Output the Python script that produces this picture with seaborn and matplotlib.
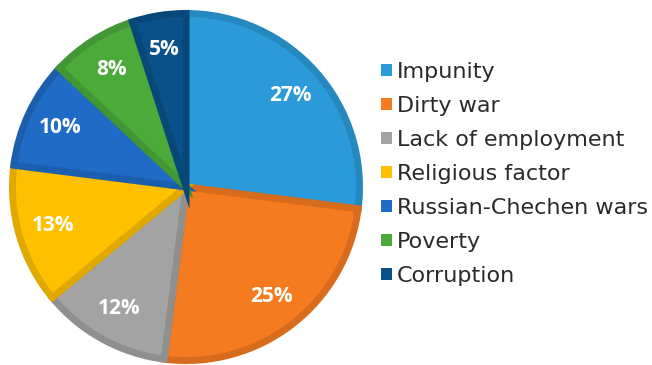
import matplotlib
matplotlib.use("Agg")
import matplotlib.pyplot as plt
import seaborn as sns
from matplotlib.patches import Patch
import matplotlib.colors as mcolors

categories = ["Impunity", "Dirty war", "Lack of employment", "Religious factor",
              "Russian-Chechen wars", "Poverty", "Corruption"]
values = [27, 25, 12, 13, 10, 8, 5]
colors = ["#2A9AD8", "#F47B20", "#A3A3A3", "#FFC000", "#1F6BC6", "#4BAA3A", "#0B5189"]

sns.set_theme(style="white")
plt.rcParams['font.family'] = ['Open Sans', 'DejaVu Sans']

def darker(c, f=0.88):
    r, g, b = mcolors.to_rgb(c)
    return (r * f, g * f, b * f)

palette = sns.color_palette(colors)
edges = [darker(c) for c in palette]

fig = plt.figure(figsize=(6.52, 3.65), dpi=100)
W, H = 652, 365
ax = fig.add_axes([9 / W, 1 / H, 354 / W, 354 / H])
wedges, texts, autotexts = ax.pie(values, colors=palette, startangle=90, counterclock=False,
                                  autopct=lambda p: f"{p:.0f}%", pctdistance=0.8,
                                  wedgeprops=dict(linewidth=5, edgecolor="white"),
                                  textprops=dict(color="white", fontsize=15, fontweight="bold"))
for w, e in zip(wedges, edges):
    w.set_edgecolor(e)
ax.set_xlim(-1.02, 1.02)
ax.set_ylim(-1.02, 1.02)
ax.set_aspect("equal")
ax.axis("off")

handles = [Patch(facecolor=c, edgecolor="none") for c in palette]
leg = fig.legend(handles, categories, loc="upper left", bbox_to_anchor=(381 / W, 1 - 62 / H),
                 frameon=False, prop=dict(family="DejaVu Sans", size=16),
                 handlelength=0.5, handleheight=0.5,
                 handletextpad=0.2, labelspacing=0.63, borderaxespad=0, borderpad=0)
for t in leg.get_texts():
    t.set_color("#2a2a2a")

fig.savefig("out.png", dpi=100)
